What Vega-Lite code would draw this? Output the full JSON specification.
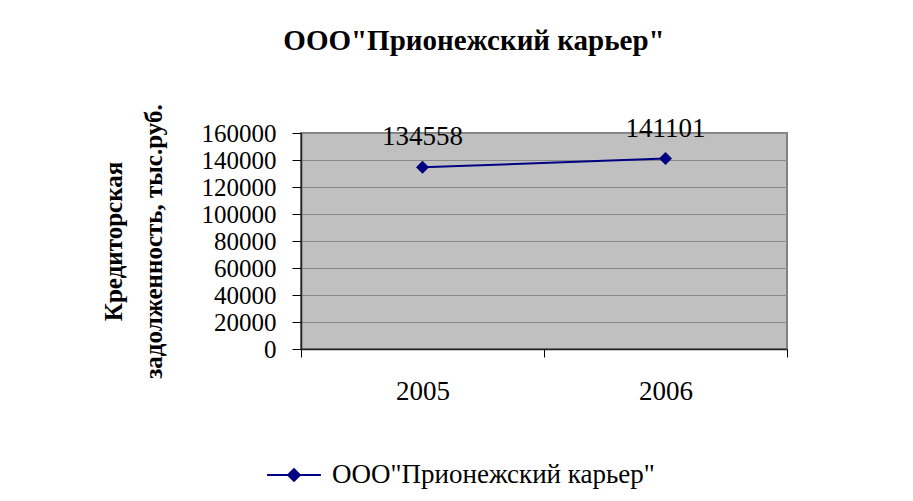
{
  "$schema": "https://vega.github.io/schema/vega-lite/v6.json",
  "autosize": {"type": "none"},
  "padding": {"left": 301, "top": 133, "right": 126, "bottom": 152},
  "width": 486,
  "height": 216,
  "background": "white",
  "title": {
    "text": "ООО\"Прионежский карьер\"",
    "font": "Liberation Serif, Times New Roman, serif",
    "fontSize": 29,
    "fontWeight": "bold",
    "color": "black",
    "anchor": "middle",
    "frame": "group",
    "dx": -70,
    "offset": 48
  },
  "data": {
    "values": [
      {"year": "2005", "value": 134558, "series": "ООО\"Прионежский карьер\""},
      {"year": "2006", "value": 141101, "series": "ООО\"Прионежский карьер\""}
    ]
  },
  "encoding": {
    "x": {
      "field": "year",
      "type": "ordinal",
      "scale": {"type": "band", "paddingInner": 0, "paddingOuter": 0},
      "axis": {
        "title": null,
        "labelAngle": 0,
        "tickBand": "extent",
        "labelFont": "Liberation Serif, Times New Roman, serif",
        "labelFontSize": 27,
        "labelColor": "black",
        "labelPadding": 21,
        "tickSize": 8,
        "tickColor": "black",
        "domainColor": "#222222",
        "domainWidth": 1.5,
        "grid": false
      }
    },
    "y": {
      "field": "value",
      "type": "quantitative",
      "scale": {"domain": [0, 160000], "nice": false},
      "axis": {
        "title": ["Кредиторская", "задолженность, тыс.руб."],
        "titleFont": "Liberation Serif, Times New Roman, serif",
        "titleFontSize": 25,
        "titleFontWeight": "bold",
        "titleColor": "black",
        "titleLineHeight": 40,
        "titlePadding": 35,
        "values": [0, 20000, 40000, 60000, 80000, 100000, 120000, 140000, 160000],
        "format": "d",
        "labelFont": "Liberation Serif, Times New Roman, serif",
        "labelFontSize": 25,
        "labelColor": "black",
        "labelPadding": 16,
        "tickSize": 9,
        "tickColor": "black",
        "domainColor": "#222222",
        "domainWidth": 1.5,
        "grid": true,
        "gridColor": "#8a8a8a",
        "gridWidth": 1
      }
    }
  },
  "layer": [
    {
      "mark": {"type": "line", "color": "#000080", "strokeWidth": 2}
    },
    {
      "mark": {"type": "point", "shape": "diamond", "filled": true, "size": 170, "opacity": 1},
      "encoding": {
        "color": {
          "field": "series",
          "type": "nominal",
          "scale": {"range": ["#000080"]},
          "legend": {
            "title": null,
            "orient": "none",
            "legendX": -35,
            "legendY": 314,
            "padding": 0,
            "symbolType": "M-1,0H1M-0.22,0L0,-0.22L0.22,0L0,0.22Z",
            "symbolSize": 2900,
            "symbolFillColor": "#000080",
            "symbolStrokeColor": "#000080",
            "symbolStrokeWidth": 2,
            "symbolOpacity": 1,
            "labelFont": "Liberation Serif, Times New Roman, serif",
            "labelFontSize": 27,
            "labelColor": "black",
            "labelLimit": 0,
            "labelOffset": 10
          }
        }
      }
    },
    {
      "mark": {"type": "text", "font": "Liberation Serif, Times New Roman, serif", "fontSize": 27, "color": "black", "dy": -22, "baseline": "alphabetic"},
      "encoding": {"text": {"field": "value", "type": "quantitative", "format": "d"}}
    }
  ],
  "config": {
    "view": {"fill": "#C0C0C0", "stroke": "#808080", "strokeWidth": 2}
  }
}
